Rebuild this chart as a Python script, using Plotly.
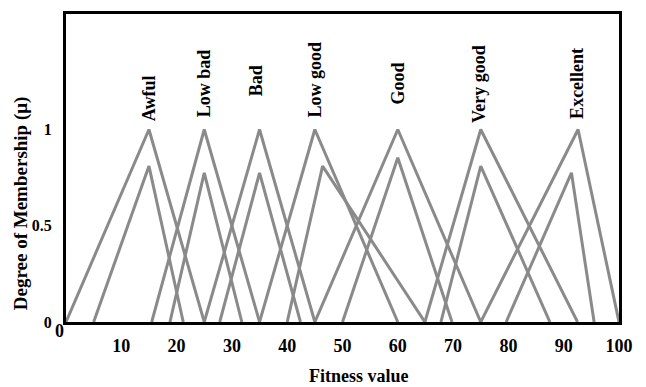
import plotly.graph_objects as go

# ---- data ----
categories = ["Awful", "Low bad", "Bad", "Low good", "Good", "Very good", "Excellent"]

# upper (outer) membership functions: left foot, peak, right foot (peak height = 1)
upper_left  = [0.0, 15.5, 25.0, 35.0, 45.0, 64.9, 75.0]
upper_peak  = [15.0, 25.0, 35.0, 45.0, 60.0, 75.0, 92.6]
upper_right = [25.0, 35.0, 45.0, 60.0, 75.0, 92.5, 100.0]
upper_height = [1, 1, 1, 1, 1, 1, 1]

# lower (inner) membership functions
lower_left  = [5.0, 18.8, 27.8, 40.0, 50.0, 67.8, 79.6]
lower_peak  = [15.0, 25.0, 35.0, 46.4, 60.0, 75.0, 91.4]
lower_right = [21.2, 31.8, 42.4, 64.9, 69.8, 87.5, 95.5]
lower_height = [0.81, 0.775, 0.775, 0.81, 0.853, 0.81, 0.775]

x_tick_vals = [10, 20, 30, 40, 50, 60, 70, 80, 90, 100]
x_tick_text = ["10", "20", "30", "40", "50", "60", "70", "80", "90", "100"]
y_tick_vals = [0, 0.5, 1]
y_tick_text = ["0", "0.5", "1"]

# label centres (layout positions, data units)
label_x = [14.9, 25.0, 34.5, 45.0, 60.2, 74.8, 92.4]
label_y = [1.165, 1.242, 1.255, 1.259, 1.239, 1.234, 1.242]

LINE = "#8a8a8a"
FONT = "Liberation Serif"

fig = go.Figure()
for i, name in enumerate(categories):
    fig.add_trace(go.Scatter(
        x=[upper_left[i], upper_peak[i], upper_right[i]],
        y=[0, upper_height[i], 0],
        mode="lines", line=dict(color=LINE, width=3),
        showlegend=False, hoverinfo="skip", name=name + " (upper)"))
    fig.add_trace(go.Scatter(
        x=[lower_left[i], lower_peak[i], lower_right[i]],
        y=[0, lower_height[i], 0],
        mode="lines", line=dict(color=LINE, width=3),
        showlegend=False, hoverinfo="skip", name=name + " (lower)"))

annotations = []
for i, name in enumerate(categories):
    annotations.append(dict(
        x=label_x[i], y=label_y[i], xref="x", yref="y",
        text=name, textangle=-90, showarrow=False,
        xanchor="center", yanchor="middle",
        font=dict(family=FONT, size=18, color="black", weight="bold")))

# axis titles and the stray "0" x label
annotations.append(dict(
    x=-0.08, y=0.385, xref="paper", yref="paper",
    text="Degree of Membership (\u03bc)", textangle=-90, showarrow=False,
    xanchor="center", yanchor="middle",
    font=dict(family=FONT, size=19, color="black", weight="bold")))
annotations.append(dict(
    x=0.529, y=-0.176, xref="paper", yref="paper",
    text="Fitness value", showarrow=False,
    xanchor="center", yanchor="middle",
    font=dict(family=FONT, size=18, color="black", weight="bold")))
annotations.append(dict(
    x=0, y=-0.03, xref="x", yref="paper", xshift=-7,
    text="0", showarrow=False, xanchor="center", yanchor="middle",
    font=dict(family=FONT, size=18, color="black", weight="bold")))

fig.update_layout(
    width=646, height=387,
    margin=dict(l=66, r=27, t=11, b=65),
    paper_bgcolor="white", plot_bgcolor="white",
    annotations=annotations,
    xaxis=dict(range=[0, 100], tickvals=x_tick_vals, ticktext=x_tick_text,
               showgrid=False, zeroline=False, ticks="",
               showline=True, linecolor="black", linewidth=3, mirror=True,
               ticklabelstandoff=5,
               tickfont=dict(family=FONT, size=18, color="black", weight="bold")),
    yaxis=dict(range=[0, 1.6], tickvals=y_tick_vals, ticktext=y_tick_text,
               showgrid=False, zeroline=False, ticks="",
               showline=True, linecolor="black", linewidth=3, mirror=True,
               ticklabelstandoff=8,
               tickfont=dict(family=FONT, size=16, color="black", weight="bold")),
)

fig.write_html("out.html")
